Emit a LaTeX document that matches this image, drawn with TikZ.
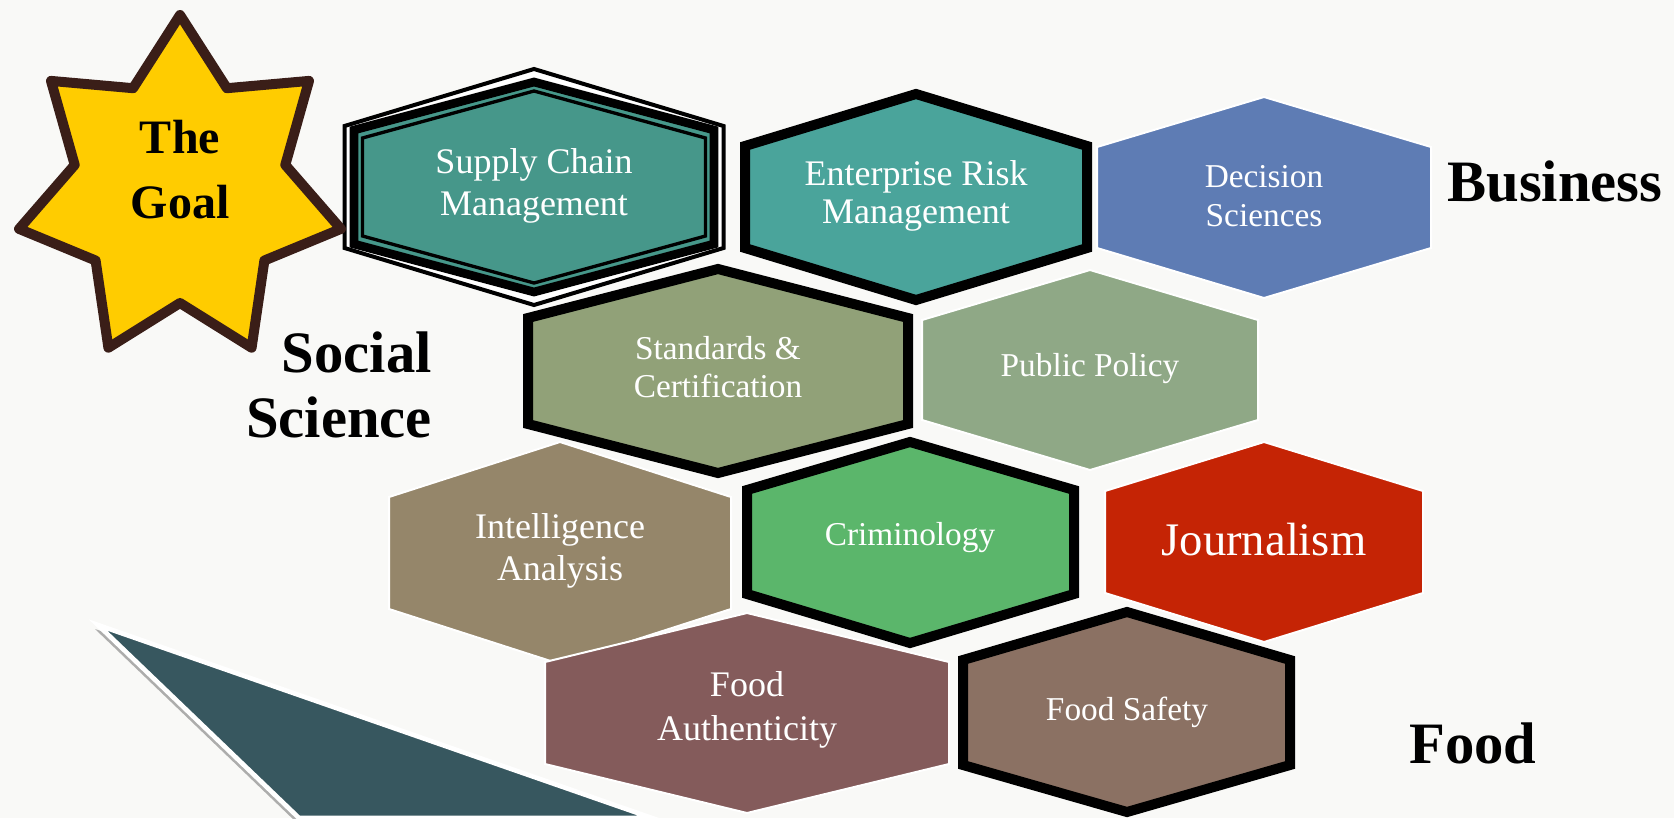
\documentclass[tikz,border=0pt]{standalone}
\usepackage{fontspec}
\setmainfont{Liberation Serif}
\usepackage{tikz}

\definecolor{bgcol}{HTML}{F9F9F7}
\definecolor{goalyellow}{HTML}{FFCC00}
\definecolor{goalbrown}{HTML}{3A1E18}
\definecolor{scmteal}{HTML}{46978A}
\definecolor{ermteal}{HTML}{4AA49B}
\definecolor{decblue}{HTML}{5E7CB4}
\definecolor{stdolive}{HTML}{91A178}
\definecolor{polsage}{HTML}{8FA886}
\definecolor{inttan}{HTML}{95866A}
\definecolor{crimgreen}{HTML}{5BB66B}
\definecolor{journred}{HTML}{C52405}
\definecolor{authmauve}{HTML}{845B5B}
\definecolor{safebrown}{HTML}{8B7163}
\definecolor{slate}{HTML}{37575F}

\begin{document}
\begin{tikzpicture}[x=0.75pt,y=0.75pt,yscale=-1,
  plainhex/.style={draw=white,line width=1.5pt,line join=miter},
  boldhex/.style={draw=black,line width=7.5pt,line join=miter},
  hextext/.style={text=white,align=center,inner sep=0.75pt,font=\fontsize{27}{31}\selectfont},
  smalltext/.style={hextext,font=\fontsize{25}{29}\selectfont},
  fieldtext/.style={inner sep=0pt,align=right,font=\bfseries\fontsize{44}{48.75}\selectfont}]
%set diagram left start at 0, and has height of 818
\useasboundingbox (0,0) rectangle (1674,818);
\fill[bgcol] (0,0) rectangle (1674,818);

%Shape: Triangle shadow
\fill[black,opacity=0.3] (95,629) -- (649,822) -- (296,822) -- cycle;
%Shape: Triangle
\filldraw[fill=slate,draw=white,line width=3.5pt] (98,625) -- (652,818) -- (299,818) -- cycle;

%Shape: Hexagon, Supply Chain (three outlines)
\filldraw[fill=white,draw=black,line width=3pt] (534,69) -- (723.5,126) -- (723.5,248) -- (534,305) -- (344.5,248) -- (344.5,126) -- cycle;
\filldraw[fill=scmteal,draw=black,line width=6.5pt] (534,82) -- (714,130) -- (714,244) -- (534,292) -- (354,244) -- (354,130) -- cycle;
\draw[black,line width=2.5pt] (534,91) -- (705.5,138) -- (705.5,236) -- (534,283) -- (362.5,236) -- (362.5,138) -- cycle;

%Shape: The Goal star
\filldraw[fill=goalyellow,draw=goalbrown,line width=7.5pt,line join=round] (180,15) -- (226.9,88.2) -- (309,80.9) -- (285.3,164.9) -- (340.9,228.9) -- (264.4,260.5) -- (251.6,347.7) -- (180,303) -- (108.4,347.7) -- (95.6,260.5) -- (19.1,228.9) -- (74.7,164.9) -- (51,80.9) -- (133.1,88.2) -- cycle;

%Shape: Hexagon, Enterprise Risk
\filldraw[boldhex,fill=ermteal] (916,94) -- (1087,146) -- (1087,248) -- (916,300) -- (745,248) -- (745,146) -- cycle;
%Shape: Hexagon, Decision Sciences
\filldraw[plainhex,fill=decblue] (1264,97) -- (1431,147) -- (1431,248) -- (1264,298) -- (1097,248) -- (1097,147) -- cycle;
%Shape: Hexagon, Standards
\filldraw[boldhex,fill=stdolive] (718,269) -- (908,318) -- (908,424) -- (718,473) -- (528,424) -- (528,318) -- cycle;
%Shape: Hexagon, Public Policy
\filldraw[plainhex,fill=polsage] (1090,270) -- (1258,320) -- (1258,420) -- (1090,470) -- (922,420) -- (922,320) -- cycle;
%Shape: Hexagon, Intelligence
\filldraw[plainhex,fill=inttan] (560,442) -- (731,497) -- (731,609) -- (560,664) -- (389,609) -- (389,497) -- cycle;
%Shape: Hexagon, Criminology
\filldraw[boldhex,fill=crimgreen] (910,442) -- (1074,490) -- (1074,594) -- (910,643) -- (747,594) -- (747,490) -- cycle;
%Shape: Hexagon, Journalism
\filldraw[plainhex,fill=journred] (1264,442) -- (1423,491) -- (1423,593) -- (1264,642) -- (1105,593) -- (1105,491) -- cycle;
%Shape: Hexagon, Food Authenticity
\filldraw[plainhex,fill=authmauve] (747,613) -- (949,662) -- (949,764) -- (747,813) -- (545,764) -- (545,662) -- cycle;
%Shape: Hexagon, Food Safety
\filldraw[boldhex,fill=safebrown] (1127,612) -- (1290,660) -- (1290,765) -- (1127,812) -- (963,765) -- (963,660) -- cycle;

% Text Node
\draw (180,170) node (goal) [inner sep=0pt,align=center,font=\bfseries\fontsize{36}{48.75}\selectfont] {The\\Goal};
% Text Node
\draw (534,186) node (scm) [hextext] {Supply Chain\\Management};
% Text Node
\draw (916,196) node (erm) [hextext,font=\fontsize{27}{29}\selectfont] {Enterprise Risk\\Management};
% Text Node
\draw (1264,196) node (decision) [smalltext] {Decision\\Sciences};
% Text Node
\draw (718,367) node (standards) [smalltext] {Standards \&\\Certification};
% Text Node
\draw (1090,369) node (policy) [smalltext] {Public Policy};
% Text Node
\draw (560,551) node (intel) [hextext] {Intelligence\\Analysis};
% Text Node
\draw (910,538) node (crim) [smalltext] {Criminology};
% Text Node
\draw (1264,540) node (journal) [hextext,font=\fontsize{35}{40}\selectfont] {Journalism};
% Text Node
\draw (747,710) node (auth) [hextext,font=\fontsize{27}{33}\selectfont] {Food\\Authenticity};
% Text Node
\draw (1127,712) node (safety) [smalltext] {Food Safety};
% Text Node
\draw (1555,182) node (business) [fieldtext] {Business};
% Text Node
\draw (432,385) node (socsci) [fieldtext,anchor=east] {Social\\Science};
% Text Node
\draw (1473,743) node (food) [fieldtext] {Food};

\end{tikzpicture}
\end{document}
